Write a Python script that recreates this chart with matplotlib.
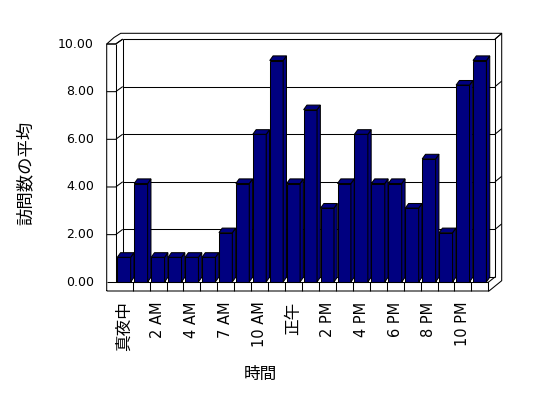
import matplotlib
matplotlib.use("Agg")
import matplotlib.pyplot as plt
from matplotlib.patches import Polygon

# ---------------- data ----------------
categories = ["真夜中", "1 AM", "2 AM", "3 AM", "4 AM", "6 AM", "7 AM", "9 AM",
              "10 AM", "11 AM", "正午", "1 PM", "2 PM", "3 PM", "4 PM", "5 PM",
              "6 PM", "7 PM", "8 PM", "9 PM", "10 PM", "11 PM"]
values = [1, 4, 1, 1, 1, 1, 2, 4, 6, 9, 4, 7, 3, 4, 6, 4, 4, 3, 5, 2, 8, 9]
yticks = [0, 2, 4, 6, 8, 10]
ytick_labels = ["0.00", "2.00", "4.00", "6.00", "8.00", "10.00"]
xlabel = "時間"
ylabel = "訪問数の平均"

# ---------------- layout (pixels of the 548x398 canvas) ----------------
W, H = 548, 398
X0, DX = 124.0, 16.94      # centre of first category, category pitch
Y0, SY = 281.9, 24.6       # zero line of bar fronts, px per value unit
BAR_W = 13.4 / DX
DDX, DDY = 3.3 / DX, 4.6 / SY   # bar depth offset

fig = plt.figure(figsize=(W / 100, H / 100), dpi=100)
ax = fig.add_axes([0, 0, 1, 1])
ax.axis("off")
ax.set_xlim((0 - X0) / DX, (W - X0) / DX)
ax.set_ylim((Y0 - H) / SY, Y0 / SY)


def px(x):
    return (x - X0) / DX


def py(y):
    return (Y0 - y) / SY


def back_y(v):      # gridline on the back wall (pixels)
    return 277.0 - 23.8 * v


def front_y(v):     # tick on the left wall front (pixels)
    return 282.3 - 23.83 * v


LW = 0.75
K = "black"


def line(xs, ys, z=2):
    ax.plot([px(x) for x in xs], [py(y) for y in ys], color=K, lw=LW,
            zorder=z, solid_capstyle="butt")


# ---- walls / frame ----
# outer outline
line([106.7, 106.7, 114.0, 120.7, 501.7, 501.7, 489.0, 106.7],
     [291.0, 44.0, 37.5, 33.3, 33.3, 280.7, 291.0, 291.0])
# back wall face
line([122.7, 495.0, 495.0], [39.3, 39.3, 277.0])
line([122.7, 122.7], [39.3, 277.0])
line([495.0, 501.7], [39.3, 33.3])
# left wall inner edge and top
line([115.7, 115.7], [44.0, 282.3])
line([106.7, 115.7, 122.7], [44.0, 44.0, 39.3])
# floor
line([106.7, 488.3, 488.3], [282.3, 282.3, 291.0], z=4)
line([488.3, 495.0], [282.3, 277.0], z=4)
for k in range(1, len(categories)):
    xb = 115.7 + DX * k
    line([xb, xb], [282.3, 291.0], z=4)

# gridlines and ticks
for v in yticks:
    yb = back_y(v)
    yf = front_y(v)
    if v > 0:
        line([122.7, 495.0], [yb, yb], z=1)
        line([106.7, 115.7, 122.7], [yf, yf, yb])
        line([495.0, 501.7], [yb, yb - 5.5])
    else:
        line([122.7, 495.0], [yb, yb], z=1)

# ---- bars ----
NAVY = "#000080"
idx = list(range(len(categories)))
ax.bar(idx, values, width=BAR_W, color=NAVY, edgecolor=K, linewidth=LW,
       zorder=3)
for i, v in zip(idx, values):
    l, r = i - BAR_W / 2, i + BAR_W / 2
    side = Polygon([(r, 0), (r + DDX, DDY), (r + DDX, v + DDY), (r, v)],
                   closed=True, facecolor=NAVY, edgecolor=K, lw=LW, zorder=3)
    cap = Polygon([(l, v), (l + DDX, v + DDY), (r + DDX, v + DDY), (r, v)],
                  closed=True, facecolor=NAVY, edgecolor=K, lw=LW, zorder=3)
    ax.add_patch(side)
    ax.add_patch(cap)

# ---- text ----
for v, lab in zip(yticks, ytick_labels):
    ax.text(px(94.0), py(front_y(v)), lab, ha="right", va="center",
            fontsize=9, family="DejaVu Sans", color=K)

for i, lab in enumerate(categories):
    if i % 2 != 0:
        continue
    if any(ord(c) > 127 for c in lab):
        fam, fs = ["Noto Sans CJK JP", "DejaVu Sans"], 12
    else:
        fam, fs = "DejaVu Sans", 10.5
    ax.text(i, py(301.5), lab, rotation=90, ha="center", va="top",
            fontsize=fs, family=fam, color=K)

ax.text(px(260.0), py(374.0), xlabel, ha="center", va="center",
        fontsize=12, family=["Noto Sans CJK JP", "DejaVu Sans"], color=K)
ax.text(px(26.0), py(173.0), ylabel, ha="center", va="center", rotation=90,
        fontsize=12.5, family=["Noto Sans CJK JP", "DejaVu Sans"], color=K)

fig.savefig("out.png", dpi=100, facecolor="white")
